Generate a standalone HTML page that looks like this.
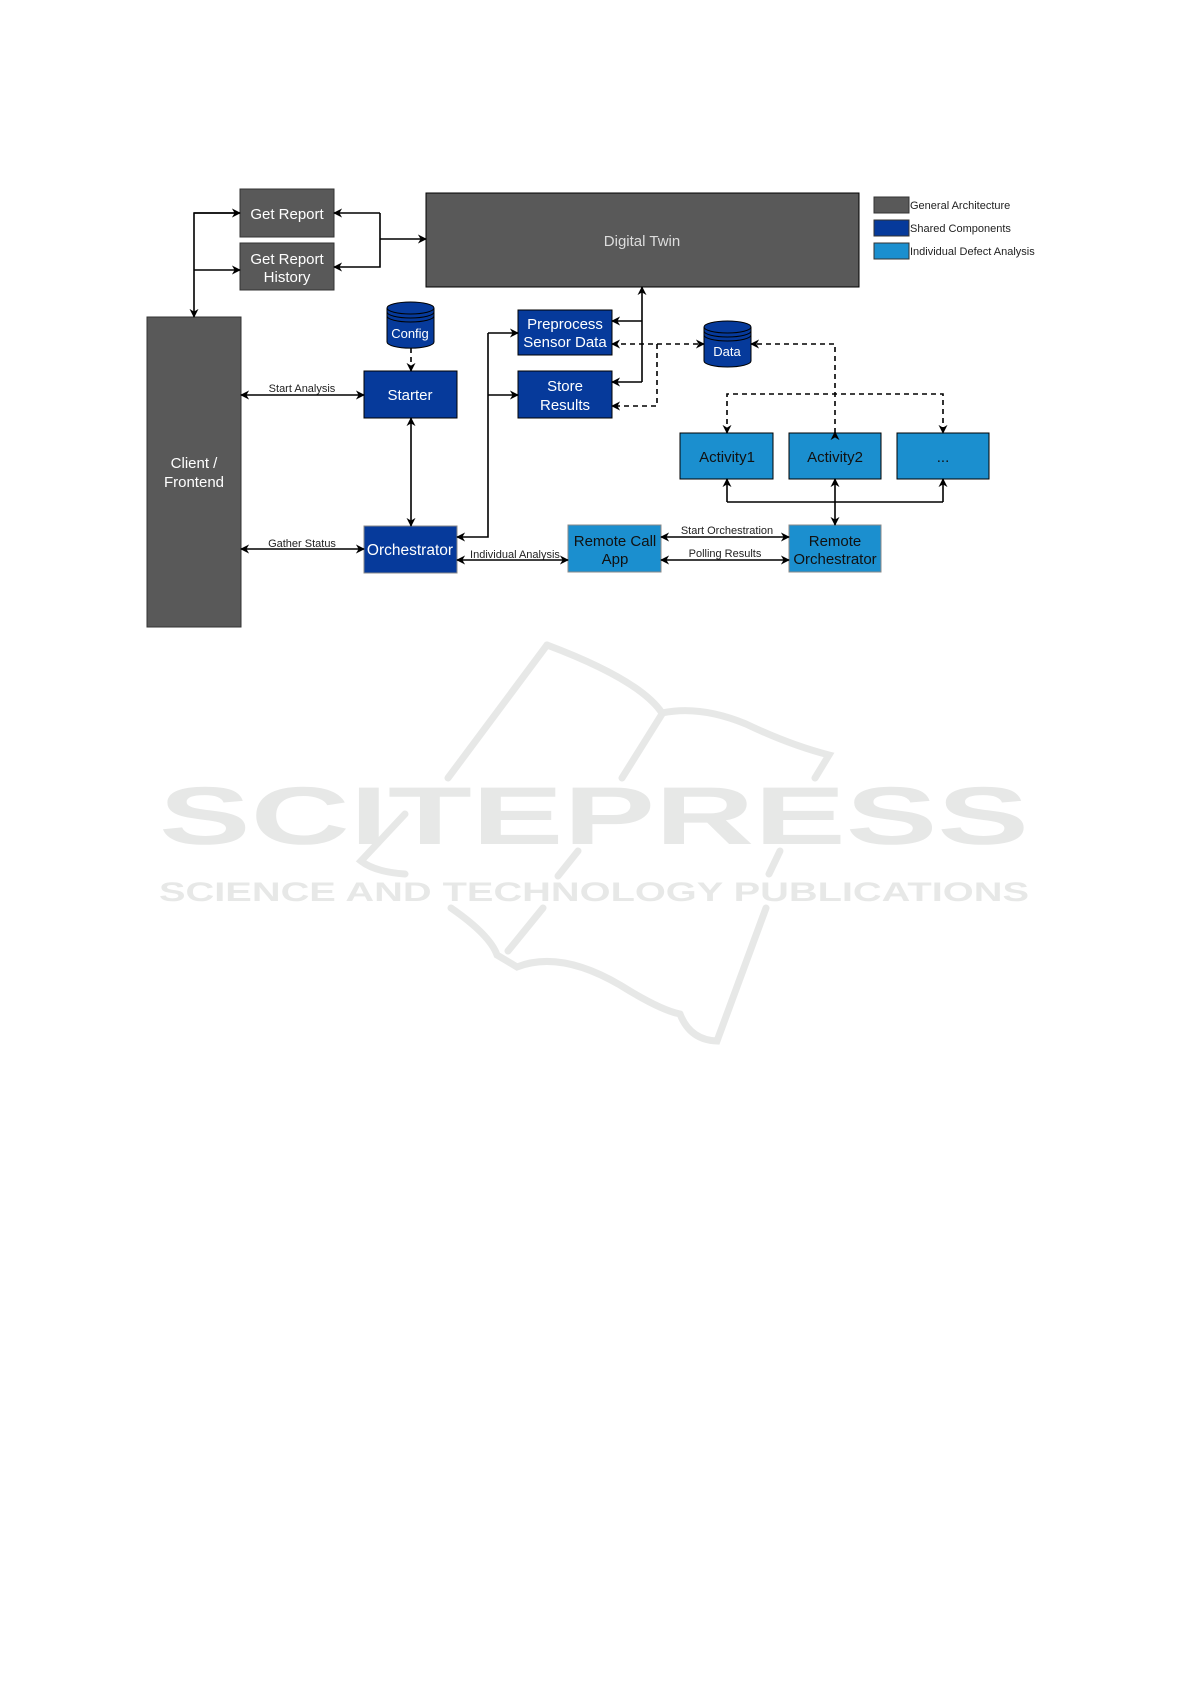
<!DOCTYPE html>
<html><head><meta charset="utf-8"><style>
body{margin:0;background:#fff}
svg{display:block}
text{font-family:"Liberation Sans",Arial,sans-serif}
</style></head><body>
<svg width="1191" height="1684" viewBox="0 0 1191 1684" xmlns="http://www.w3.org/2000/svg">
<defs>
<marker id="a" viewBox="0 0 10 10" refX="9" refY="5" markerWidth="9" markerHeight="9" orient="auto-start-reverse" markerUnits="userSpaceOnUse"><path d="M0,0 L10,5 L0,10 L3,5 Z" fill="#000"/></marker>
</defs>
<!-- watermark -->
<g fill="none" stroke="#e7e8e7" stroke-width="7" stroke-linecap="round">
<path d="M547,645 L448,778"/><path d="M405,814 L361,861 Q375,872 405,874"/>
<path d="M547,645 Q640,680 662,713 Q700,705 746,724 Q790,745 829,755 L815,778"/>
<path d="M662,714 L622,778"/><path d="M578,851 L558,876"/><path d="M780,851 L769,874"/>
<path d="M451,908 Q490,935 497,955 L517,967 Q560,950 620,985 Q660,1010 680,1014"/>
<path d="M543,908 L508,951"/><path d="M766,908 L717,1041 Q690,1040 680,1014"/>
</g>
<text x="594" y="844" text-anchor="middle" font-size="82" font-weight="bold" fill="#e7e8e7" textLength="870" lengthAdjust="spacingAndGlyphs">SCITEPRESS</text>
<text x="594" y="901" text-anchor="middle" font-size="27" font-weight="bold" fill="#e7e8e7" textLength="870" lengthAdjust="spacingAndGlyphs">SCIENCE AND TECHNOLOGY PUBLICATIONS</text>

<!-- boxes -->
<g stroke="#333" stroke-width="1">
<rect x="240" y="189" width="94" height="48" fill="#595959"/>
<rect x="240" y="243" width="94" height="47" fill="#595959"/>
<rect x="426" y="193" width="433" height="94" fill="#595959" stroke="#000"/>
<rect x="147" y="317" width="94" height="310" fill="#595959"/>
<rect x="364" y="371" width="93" height="47" fill="#063a9b" stroke="#000"/>
<rect x="364" y="526" width="93" height="47" fill="#063a9b" stroke="#888"/>
<rect x="518" y="310" width="94" height="45" fill="#063a9b" stroke="#000"/>
<rect x="518" y="371" width="94" height="47" fill="#063a9b" stroke="#000"/>
<rect x="680" y="433" width="93" height="46" fill="#1b8fcf" stroke="#000"/>
<rect x="789" y="433" width="92" height="46" fill="#1b8fcf" stroke="#000"/>
<rect x="897" y="433" width="92" height="46" fill="#1b8fcf" stroke="#000"/>
<rect x="568" y="525" width="93" height="47" fill="#1b8fcf" stroke="#888"/>
<rect x="789" y="525" width="92" height="47" fill="#1b8fcf" stroke="#888"/>
<rect x="874" y="197" width="35" height="16" fill="#595959"/>
<rect x="874" y="220" width="35" height="16" fill="#063a9b"/>
<rect x="874" y="243" width="35" height="16" fill="#1b8fcf"/>
</g>
<!-- cylinders -->
<g fill="#063a9b" stroke="#000" stroke-width="1">
<path d="M387,308 L387,342 A23,6 0 0 0 434,342 L434,308"/>
<ellipse cx="410.5" cy="308" rx="23.5" ry="6"/>
<path d="M387,312 A23.5,6 0 0 0 434,312 M387,316 A23.5,6 0 0 0 434,316" fill="none"/>
<path d="M704,327 L704,361 A23.5,6 0 0 0 751,361 L751,327"/>
<ellipse cx="727.5" cy="327" rx="23.5" ry="6"/>
<path d="M704,331 A23.5,6 0 0 0 751,331 M704,335 A23.5,6 0 0 0 751,335" fill="none"/>
</g>
<!-- texts -->
<g fill="#fff" font-size="15" text-anchor="middle">
<text x="287" y="219">Get Report</text>
<text x="287" y="264">Get Report</text><text x="287" y="282">History</text>
<text x="642" y="246" fill="#ddd">Digital Twin</text>
<text x="194" y="468">Client /</text><text x="194" y="487">Frontend</text>
<text x="410" y="338" font-size="13">Config</text>
<text x="727" y="356" font-size="13">Data</text>
<text x="410" y="400">Starter</text>
<text x="410" y="555" font-size="15.5">Orchestrator</text>
<text x="565" y="329">Preprocess</text><text x="565" y="347">Sensor Data</text>
<text x="565" y="391">Store</text><text x="565" y="410">Results</text>
</g>
<g fill="#111" font-size="15" text-anchor="middle">
<text x="727" y="462">Activity1</text>
<text x="835" y="462">Activity2</text>
<text x="943" y="462">...</text>
<text x="615" y="546">Remote Call</text><text x="615" y="564">App</text>
<text x="835" y="546">Remote</text><text x="835" y="564">Orchestrator</text>
</g>
<g fill="#222" font-size="11">
<text x="910" y="209">General Architecture</text>
<text x="910" y="232">Shared Components</text>
<text x="910" y="255">Individual Defect Analysis</text>
<text x="302" y="392" text-anchor="middle">Start Analysis</text>
<text x="302" y="547" text-anchor="middle">Gather Status</text>
<text x="515" y="558" text-anchor="middle">Individual Analysis</text>
<text x="727" y="534" text-anchor="middle">Start Orchestration</text>
<text x="725" y="557" text-anchor="middle">Polling Results</text>
</g>
<!-- connectors -->
<g fill="none" stroke="#000" stroke-width="1.6">
<path d="M240,213 L194,213 L194,317" marker-end="url(#a)"/>
<path d="M240,213 L194,213" marker-start="url(#a)"/>
<path d="M194,270 L240,270" marker-end="url(#a)"/>
<path d="M380,213 L334,213" marker-end="url(#a)"/>
<path d="M380,213 L380,267 L334,267" marker-end="url(#a)"/>
<path d="M380,239 L426,239" marker-end="url(#a)"/>
<path d="M241,395 L364,395" marker-start="url(#a)" marker-end="url(#a)"/>
<path d="M241,549 L364,549" marker-start="url(#a)" marker-end="url(#a)"/>
<path d="M411,418 L411,526" marker-start="url(#a)" marker-end="url(#a)"/>
<path d="M488,333 L518,333" marker-end="url(#a)"/>
<path d="M488,395 L518,395" marker-end="url(#a)"/>
<path d="M488,333 L488,537 L457,537" marker-end="url(#a)"/>
<path d="M457,560 L568,560" marker-start="url(#a)" marker-end="url(#a)"/>
<path d="M642,382 L642,287" marker-end="url(#a)"/>
<path d="M642,321 L612,321" marker-end="url(#a)"/>
<path d="M642,382 L612,382" marker-end="url(#a)"/>
<path d="M661,537 L789,537" marker-start="url(#a)" marker-end="url(#a)"/>
<path d="M661,560 L789,560" marker-start="url(#a)" marker-end="url(#a)"/>
<path d="M727,502 L943,502"/>
<path d="M727,502 L727,479" marker-end="url(#a)"/>
<path d="M943,502 L943,479" marker-end="url(#a)"/>
<path d="M835,479 L835,525" marker-start="url(#a)" marker-end="url(#a)"/>
</g>
<g fill="none" stroke="#000" stroke-width="1.6" stroke-dasharray="5,4">
<path d="M411,348 L411,371" marker-end="url(#a)"/>
<path d="M612,344 L704,344" marker-start="url(#a)" marker-end="url(#a)"/>
<path d="M657,344 L657,406 L612,406" marker-end="url(#a)"/>
<path d="M835,433 L835,344 L751,344" marker-end="url(#a)"/>
<path d="M835,433 L835,432" marker-end="url(#a)"/>
<path d="M727,433 L727,394 L943,394 L943,433" marker-start="url(#a)" marker-end="url(#a)"/>
</g>
</svg>
</body></html>
